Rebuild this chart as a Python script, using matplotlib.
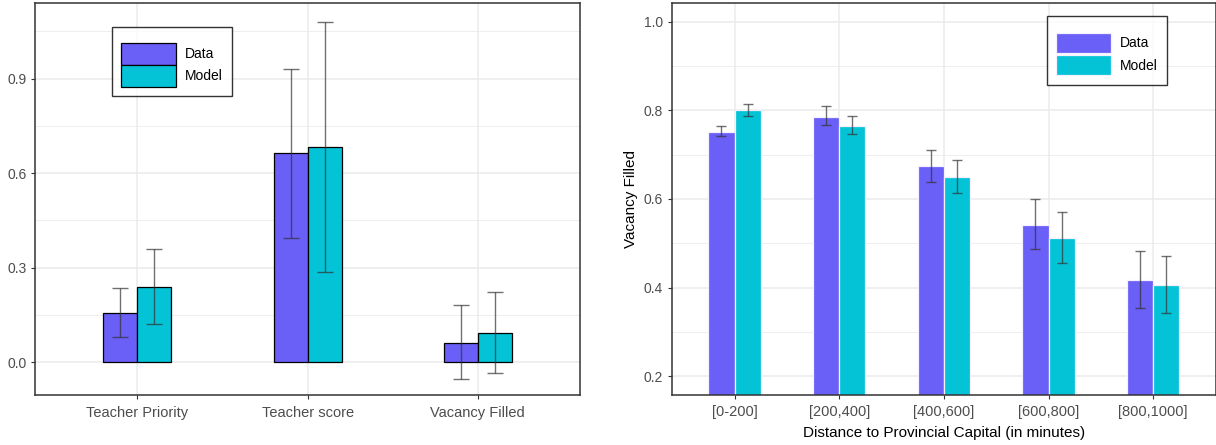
import numpy as np
import matplotlib
matplotlib.use('Agg')
import matplotlib.pyplot as plt
from matplotlib.patches import Patch

plt.rcParams['font.family'] = ['Liberation Sans', 'DejaVu Sans']

# left panel: summary moments
left_cats = ['Teacher Priority', 'Teacher score', 'Vacancy Filled']
left_data = [0.157, 0.663, 0.062]
left_data_lo = [0.080, 0.394, -0.052]
left_data_hi = [0.234, 0.931, 0.183]
left_model = [0.240, 0.684, 0.094]
left_model_lo = [0.122, 0.285, -0.033]
left_model_hi = [0.359, 1.081, 0.223]

# right panel: vacancy filled by distance
right_cats = ['[0-200]', '[200,400]', '[400,600]', '[600,800]', '[800,1000]']
right_data = [0.752, 0.786, 0.674, 0.542, 0.417]
right_data_lo = [0.742, 0.767, 0.639, 0.486, 0.355]
right_data_hi = [0.765, 0.809, 0.711, 0.601, 0.482]
right_model = [0.800, 0.765, 0.649, 0.513, 0.405]
right_model_lo = [0.787, 0.747, 0.614, 0.456, 0.343]
right_model_hi = [0.815, 0.788, 0.687, 0.571, 0.471]

c_data = '#6a5ff7'
c_model = '#04c3d7'
grid_c = '#ebebeb'
tick_c = '#4d4d4d'

W, H = 1216, 445
fig = plt.figure(figsize=(W/100, H/100), dpi=100)
ax_l = fig.add_axes([35.3/W, 49.7/H, (580-35.3)/W, (395.3-3.3)/H])
ax_r = fig.add_axes([671.7/W, 49.7/H, (1216-671.7)/W, (395.3-3.3)/H])


def style(ax, yticks, yminor):
    ax.set_axisbelow(True)
    for y in yminor:
        ax.axhline(y, color=grid_c, lw=0.6, zorder=0)
    ax.set_yticks(yticks)
    ax.yaxis.grid(True, color=grid_c, lw=1.1)
    ax.xaxis.grid(True, color=grid_c, lw=1.1)
    for s in ax.spines.values():
        s.set_color('#333333')
        s.set_linewidth(1.1)
    ax.tick_params(colors='#333333', labelcolor=tick_c, length=3, width=0.8,
                   labelsize=10)


def draw(ax, cats, d, dlo, dhi, m, mlo, mhi, w, ec, cap):
    x = np.arange(1, len(cats) + 1)
    ax.bar(x - w/2, d, w, color=c_data, edgecolor=ec, lw=0.9, zorder=2)
    ax.bar(x + w/2, m, w, color=c_model, edgecolor=ec, lw=0.9, zorder=2)
    d, dlo, dhi = map(np.array, (d, dlo, dhi))
    m, mlo, mhi = map(np.array, (m, mlo, mhi))
    ax.errorbar(x - w/2, d, yerr=[d - dlo, dhi - d], fmt='none', ecolor='#333333',
                alpha=0.7, elinewidth=1, capsize=cap, capthick=1, zorder=3)
    ax.errorbar(x + w/2, m, yerr=[m - mlo, mhi - m], fmt='none', ecolor='#333333',
                alpha=0.7, elinewidth=1, capsize=cap, capthick=1, zorder=3)
    ax.set_xticks(x)
    ax.set_xticklabels(cats)
    ax.set_xlim(0.4, len(cats) + 0.6)


def add_legend(ax, ec, anchor, hh, sp, title_fs):
    handles = [Patch(facecolor=c_data, edgecolor=ec, lw=0.9),
               Patch(facecolor=c_model, edgecolor=ec, lw=0.9)]
    leg = ax.legend(handles, ['Data', 'Model'], loc='upper left', title=' ',
                    title_fontsize=title_fs,
                    bbox_to_anchor=(anchor[0]/W, 1 - anchor[1]/H),
                    bbox_transform=fig.transFigure, fontsize=10, frameon=True,
                    fancybox=False, handlelength=4.0, handleheight=hh,
                    labelspacing=sp, handletextpad=0.65, borderpad=0.65,
                    borderaxespad=0)
    leg.get_frame().set_edgecolor('black')
    leg.get_frame().set_linewidth(1.0)


style(ax_l, [0.0, 0.3, 0.6, 0.9], [0.15, 0.45, 0.75, 1.05])
draw(ax_l, left_cats, left_data, left_data_lo, left_data_hi,
     left_model, left_model_lo, left_model_hi, 0.2, 'black', 6)
ax_l.set_ylim(-0.105, 1.139)
ax_l.tick_params(axis='x', labelsize=10.5, pad=5)

style(ax_r, [0.2, 0.4, 0.6, 0.8, 1.0], [0.3, 0.5, 0.7, 0.9])
draw(ax_r, right_cats, right_data, right_data_lo, right_data_hi,
     right_model, right_model_lo, right_model_hi, 0.25, '#f4f0ff', 3.9)
ax_r.set_ylim(0.157, 1.0415)
ax_r.set_yticklabels(['0.2', '0.4', '0.6', '0.8', '1.0'])
ax_r.tick_params(axis='x', labelsize=10.5, pad=4)
ax_r.set_ylabel('Vacancy Filled', fontsize=11, labelpad=4)
ax_r.set_xlabel('Distance to Provincial Capital (in minutes)', fontsize=11, labelpad=5)

add_legend(ax_l, 'black', (111.7, 26.7), 2.06, 0.0, 5)
add_legend(ax_r, '#f4f0ff', (1046.7, 15.7), 1.85, 0.2, 4)

fig.savefig('out.png', dpi=100)
